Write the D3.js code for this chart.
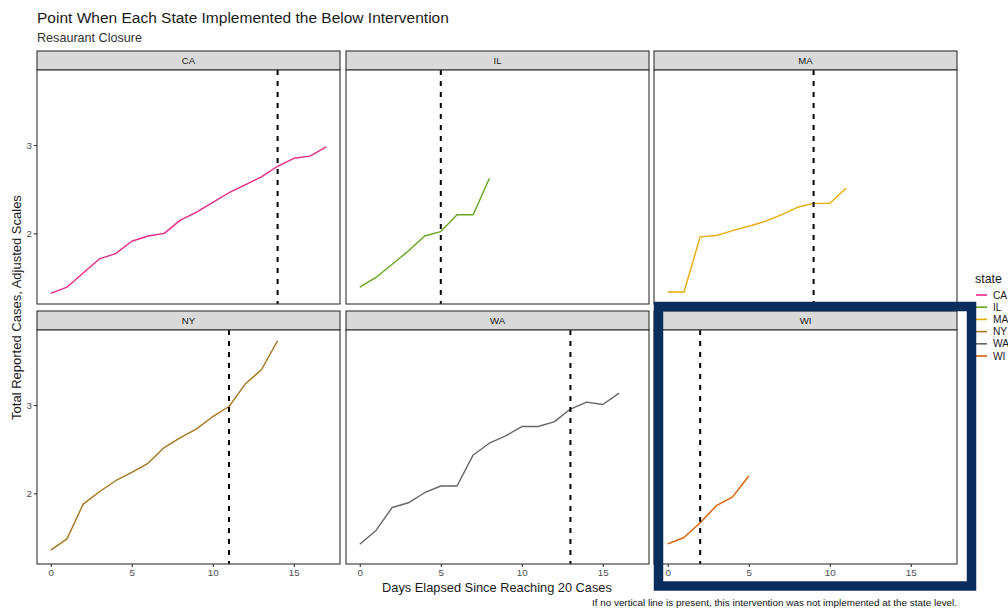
<!DOCTYPE html>
<html>
<head>
<meta charset="utf-8">
<script src="https://cdn.jsdelivr.net/npm/d3@7"></script>
<style>
  html, body { margin: 0; padding: 0; background: #fff; }
  svg { display: block; font-family: "Liberation Sans", Arial, sans-serif; }
</style>
</head>
<body>
<svg id="chart" width="1008" height="611"></svg>
<script>
// ---- data ----
const STATES = ['CA', 'IL', 'MA', 'NY', 'WA', 'WI'];
const COLORS = ['#e7298a', '#66a61e', '#e6ab02', '#a6761d', '#666666', '#d95f02'];

const CA_VALUES = [1.32, 1.39, 1.55, 1.71, 1.77, 1.91, 1.97, 2.0, 2.15, 2.24, 2.35, 2.46, 2.55, 2.64, 2.76, 2.85, 2.875, 2.98];
const IL_VALUES = [1.39, 1.50, 1.65, 1.80, 1.97, 2.02, 2.21, 2.21, 2.625];
const MA_VALUES = [1.335, 1.335, 1.96, 1.975, 2.03, 2.08, 2.135, 2.21, 2.295, 2.34, 2.34, 2.51];
const NY_VALUES = [1.356, 1.484, 1.878, 2.018, 2.143, 2.238, 2.34, 2.518, 2.632, 2.73, 2.87, 2.984, 3.238, 3.40, 3.73];
const WA_VALUES = [1.424, 1.58, 1.84, 1.893, 2.007, 2.083, 2.083, 2.435, 2.568, 2.651, 2.757, 2.757, 2.81, 2.955, 3.034, 3.007, 3.136];
const WI_VALUES = [1.428, 1.50, 1.666, 1.86, 1.96, 2.197];

// day on which restaurant closure was implemented
const CLOSURE_DAY = [14, 5, 9, 11, 13, 2];

const X_TICKS = [0, 5, 10, 15];
const Y_TICKS = [2, 3];

const TITLE = 'Point When Each State Implemented the Below Intervention';
const SUBTITLE = 'Resaurant Closure';
const X_LABEL = 'Days Elapsed Since Reaching 20 Cases';
const Y_LABEL = 'Total Reported Cases, Adjusted Scales';
const CAPTION = 'If no vertical line is present, this intervention was not implemented at the state level.';
const LEGEND_TITLE = 'state';
const HIGHLIGHT = 'WI';

const SERIES = [CA_VALUES, IL_VALUES, MA_VALUES, NY_VALUES, WA_VALUES, WI_VALUES];

// ---- layout ----
const svg = d3.select('#chart');
const colLeft = [37, 346, 654];
const rowTop = [51, 311];
const panelW = 303, stripH = 19, panelH = 234;
const ncol = 3;
const FONT = '"Liberation Sans", Arial, sans-serif';

const color = d3.scaleOrdinal().domain(STATES).range(COLORS);

// shared scales with ggplot-like 5% expansion
const allY = SERIES.flat();
const maxDay = d3.max(SERIES, s => s.length - 1);
const xPad = maxDay * 0.05;
const [yMin, yMax] = d3.extent(allY);
const yPad = (yMax - yMin) * 0.05;

const x = d3.scaleLinear().domain([-xPad, maxDay + xPad]).range([0, panelW]);
const y = d3.scaleLinear().domain([yMin - yPad, yMax + yPad]).range([panelH, 0]);

const line = d3.line().x((d, i) => x(i)).y(d => y(d));

// title + subtitle
svg.append('text').attr('x', 37).attr('y', 23)
  .attr('font-size', 15.5).attr('fill', '#1a1a1a').text(TITLE);
svg.append('text').attr('x', 37).attr('y', 42)
  .attr('font-size', 12.6).attr('fill', '#333').text(SUBTITLE);

STATES.forEach((st, i) => {
  const col = i % ncol, row = Math.floor(i / ncol);
  const g = svg.append('g')
    .attr('transform', `translate(${colLeft[col]},${rowTop[row]})`);

  // strip
  g.append('rect')
    .attr('width', panelW).attr('height', stripH)
    .attr('fill', '#d9d9d9').attr('stroke', '#333').attr('stroke-width', 1.1);
  g.append('text')
    .attr('x', panelW / 2).attr('y', stripH / 2 + 3.5)
    .attr('text-anchor', 'middle').attr('font-size', 9.6)
    .attr('fill', '#1a1a1a').text(st);

  const p = g.append('g').attr('transform', `translate(0,${stripH})`);
  p.append('rect').attr('width', panelW).attr('height', panelH).attr('fill', '#fff');

  p.append('path')
    .datum(SERIES[i])
    .attr('d', line)
    .attr('fill', 'none')
    .attr('stroke', color(st))
    .attr('stroke-width', 1.4)
    .attr('stroke-linejoin', 'round');

  p.append('line')
    .attr('x1', x(CLOSURE_DAY[i])).attr('x2', x(CLOSURE_DAY[i]))
    .attr('y1', 0).attr('y2', panelH)
    .attr('stroke', '#000').attr('stroke-width', 2)
    .attr('stroke-dasharray', '5,6');

  p.append('rect').attr('width', panelW).attr('height', panelH)
    .attr('fill', 'none').attr('stroke', '#333').attr('stroke-width', 1.1);

  // axes
  if (col === 0) {
    const ya = p.append('g').call(d3.axisLeft(y).tickValues(Y_TICKS).tickSize(3).tickPadding(2).tickFormat(d3.format('d')));
    ya.select('.domain').remove();
    ya.selectAll('line').attr('stroke', '#333').attr('stroke-width', 1.1);
    ya.selectAll('text').attr('font-size', 9.8).attr('fill', '#4d4d4d').attr('font-family', FONT);
  }
  if (row === 1) {
    const xa = p.append('g').attr('transform', `translate(0,${panelH})`)
      .call(d3.axisBottom(x).tickValues(X_TICKS).tickSize(3).tickPadding(2).tickFormat(d3.format('d')));
    xa.select('.domain').remove();
    xa.selectAll('line').attr('stroke', '#333').attr('stroke-width', 1.1);
    xa.selectAll('text').attr('font-size', 9.8).attr('fill', '#4d4d4d').attr('font-family', FONT);
  }
});

// axis titles
svg.append('text')
  .attr('transform', `translate(21,${(rowTop[0] + rowTop[1] + stripH + panelH) / 2}) rotate(-90)`)
  .attr('text-anchor', 'middle').attr('font-size', 13).attr('fill', '#1a1a1a')
  .text(Y_LABEL);
svg.append('text')
  .attr('x', (colLeft[0] + colLeft[2] + panelW) / 2).attr('y', 592)
  .attr('text-anchor', 'middle').attr('font-size', 12.8).attr('fill', '#1a1a1a')
  .text(X_LABEL);

// caption
svg.append('text')
  .attr('x', colLeft[2] + panelW).attr('y', 606)
  .attr('text-anchor', 'end').attr('font-size', 9.9).attr('fill', '#111')
  .text(CAPTION);

// legend
const lg = svg.append('g').attr('transform', 'translate(975,0)');
lg.append('text').attr('x', 0).attr('y', 283)
  .attr('font-size', 12.4).attr('fill', '#1a1a1a').text(LEGEND_TITLE);
STATES.forEach((st, i) => {
  const cy = 295 + i * 12.2;
  lg.append('line').attr('x1', 1).attr('x2', 12).attr('y1', cy).attr('y2', cy)
    .attr('stroke', color(st)).attr('stroke-width', 1.6);
  lg.append('text').attr('x', 18).attr('y', cy + 3.6)
    .attr('font-size', 10.2).attr('fill', '#1a1a1a').text(st);
});

// highlight box drawn over the WI panel
const hi = STATES.indexOf(HIGHLIGHT);
const hx = colLeft[hi % ncol], hy = rowTop[Math.floor(hi / ncol)];
svg.append('rect')
  .attr('x', hx + 4.5).attr('y', hy - 4.5)
  .attr('width', 313).attr('height', 279.5)
  .attr('fill', 'none').attr('stroke', '#0b2d5e').attr('stroke-width', 9.5);
</script>
</body>
</html>
